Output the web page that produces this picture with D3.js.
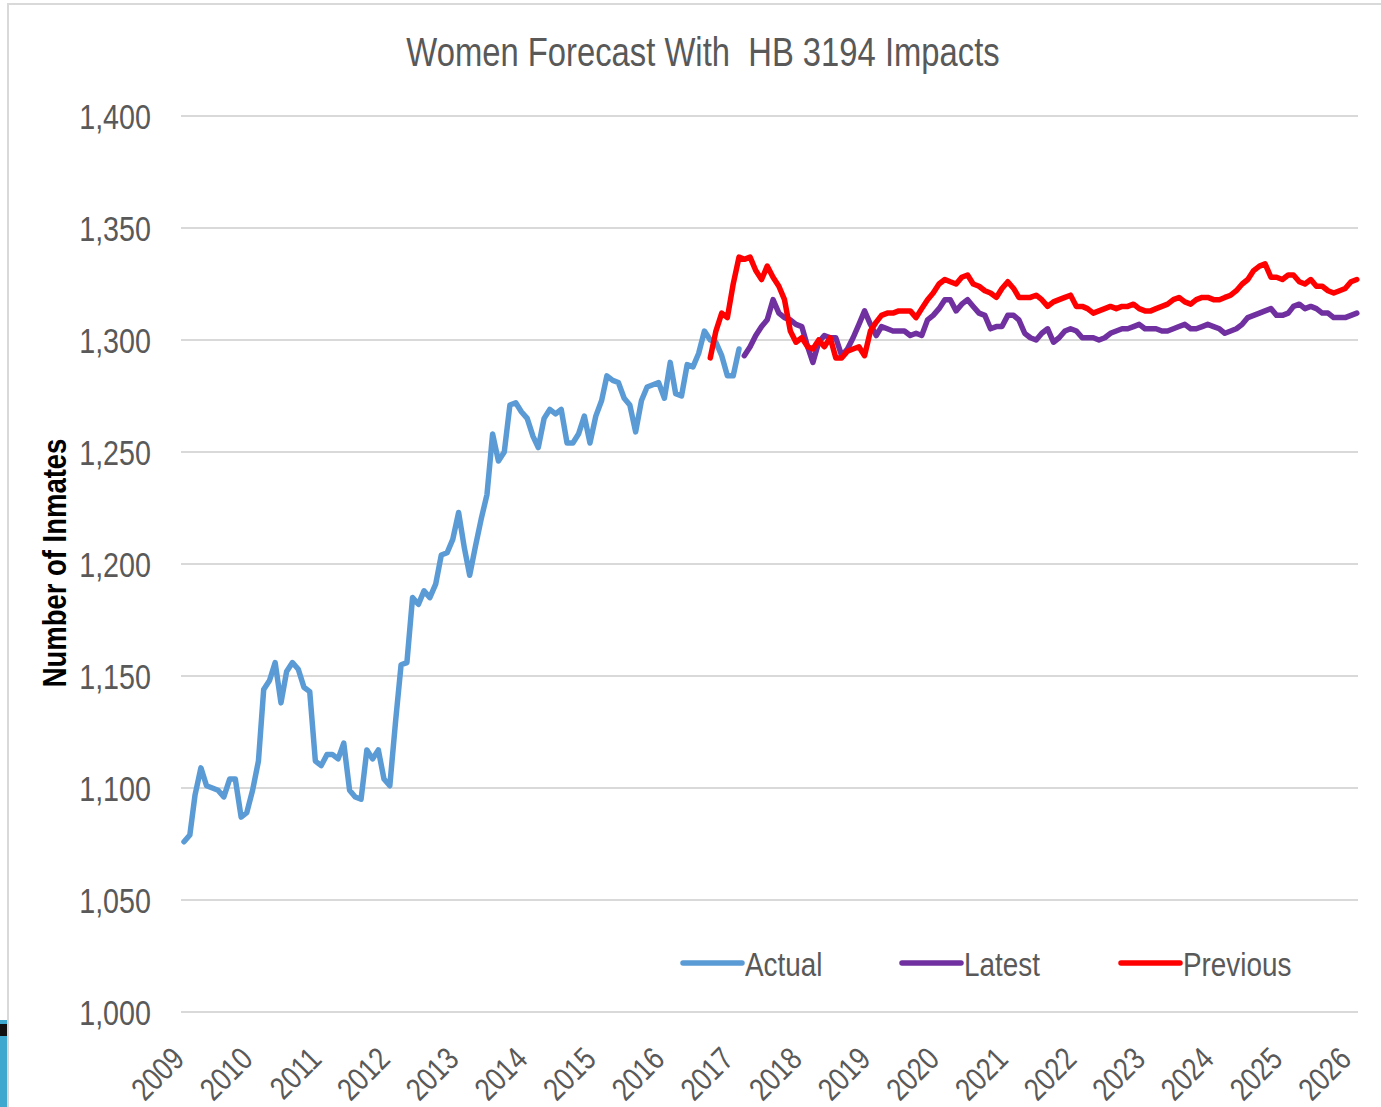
<!DOCTYPE html>
<html>
<head>
<meta charset="utf-8">
<script src="https://cdn.jsdelivr.net/npm/d3@7"></script>
<style>
  body { margin: 0; background: #fff; }
  svg text { font-family: "Liberation Sans", Arial, sans-serif; }
</style>
</head>
<body>
<div id="chart"></div>
<script>
// monthly data
var yearLabels = d3.range(2009, 2027).map(String);
var yTicks = [1000, 1050, 1100, 1150, 1200, 1250, 1300, 1350, 1400];

var actualStart = [2009, 0];   // Jan 2009
var actual = [1076,1079,1097,1109,1101,1100,1099,1096,1104,1104,
  1087,1089,1099,1112,1144,1148,1156,1138,1152,1156,
  1153,1145,1143,1112,1110,1115,1115,1113,1120,1099,
  1096,1095,1117,1113,1117,1104,1101,1130,1155,1156,
  1185,1182,1188,1185,1191,1204,1205,1211,1223,1207,
  1195,1208,1220,1231,1258,1246,1250,1271,1272,1268,
  1265,1257,1252,1265,1269,1267,1269,1254,1254,1258,
  1266,1254,1266,1273,1284,1282,1281,1274,1271,1259,
  1273,1279,1280,1281,1274,1290,1276,1275,1289,1288,
  1294,1304,1300,1299,1293,1284,1284,1296];

var previousStart = [2016, 8]; // Sep 2016
var previous = [1292,1304,1312,1310,1325,1337,1336,1337,1331,1327,
  1333,1328,1324,1318,1304,1299,1301,1297,1296,1300,
  1297,1301,1292,1292,1295,1296,1297,1293,1304,1308,
  1311,1312,1312,1313,1313,1313,1310,1314,1318,1321,
  1325,1327,1326,1325,1328,1329,1325,1324,1322,1321,
  1319,1323,1326,1323,1319,1319,1319,1320,1318,1315,
  1317,1318,1319,1320,1315,1315,1314,1312,1313,1314,
  1315,1314,1315,1315,1316,1314,1313,1313,1314,1315,
  1316,1318,1319,1317,1316,1318,1319,1319,1318,1318,
  1319,1320,1322,1325,1327,1331,1333,1334,1328,1328,
  1327,1329,1329,1326,1325,1327,1324,1324,1322,1321,
  1322,1323,1326,1327];

var latestStart = [2017, 2];   // Mar 2017
var latest = [1293,1297,1302,1306,1309,1318,1312,1310,1309,1307,
  1306,1297,1290,1299,1302,1301,1301,1293,1296,1301,
  1307,1313,1307,1302,1306,1305,1304,1304,1304,1302,
  1303,1302,1309,1311,1314,1318,1318,1313,1316,1318,
  1315,1312,1311,1305,1306,1306,1311,1311,1309,1303,
  1301,1300,1303,1305,1299,1301,1304,1305,1304,1301,
  1301,1301,1300,1301,1303,1304,1305,1305,1306,1307,
  1305,1305,1305,1304,1304,1305,1306,1307,1305,1305,
  1306,1307,1306,1305,1303,1304,1305,1307,1310,1311,
  1312,1313,1314,1311,1311,1312,1315,1316,1314,1315,
  1314,1312,1312,1310,1310,1310,1311,1312];

var seriesNames = ["Actual", "Latest", "Previous"];
var seriesColors = ["#5b9bd5", "#7030a0", "#ff0000"];

function toPoints(start, values) {
  return values.map(function (v, i) {
    return { date: new Date(start[0], start[1] + i, 1), value: v };
  });
}

var series = [
  { name: "Actual", points: toPoints(actualStart, actual) },
  { name: "Latest", points: toPoints(latestStart, latest) },
  { name: "Previous", points: toPoints(previousStart, previous) }
];

var W = 1381, H = 1107;
var NARROW = 0.82; // Arial Narrow look

var svg = d3.select("#chart").append("svg")
  .attr("width", W).attr("height", H);

// outer frame + bit of background image at the corner
svg.append("rect").attr("x", 0).attr("y", 1020).attr("width", 7).attr("height", 87)
  .attr("fill", "#3ea8cf");
svg.append("rect").attr("x", 0).attr("y", 1024).attr("width", 7).attr("height", 12)
  .attr("fill", "#111");
svg.append("rect").attr("x", 8).attr("y", 4).attr("width", W + 20).attr("height", H + 20)
  .attr("fill", "none").attr("stroke", "#d9d9d9").attr("stroke-width", 2);

// scales
var x = d3.scaleTime()
  .domain([new Date(2009, 0, 1), new Date(2026, 0, 1)])
  .range([184, 1351]);
var y = d3.scaleLinear()
  .domain([1000, 1400])
  .range([1012, 116]);

// helper for condensed text
function narrow(sel, tx, ty, rot) {
  return sel.attr("transform", "translate(" + tx + "," + ty + ")" +
    (rot ? " rotate(" + rot + ")" : "") + " scale(" + NARROW + ",1)");
}

// gridlines
svg.append("g").selectAll("line")
  .data(yTicks).enter().append("line")
  .attr("x1", 181).attr("x2", 1358)
  .attr("y1", function (d) { return y(d); })
  .attr("y2", function (d) { return y(d); })
  .attr("stroke", "#d9d9d9").attr("stroke-width", 2);

// y tick labels
svg.append("g").selectAll("text")
  .data(yTicks).enter().append("text")
  .each(function (d) { narrow(d3.select(this), 151, y(d) + 12.5); })
  .attr("text-anchor", "end")
  .attr("font-size", 35)
  .attr("fill", "#595959")
  .text(function (d) { return d3.format(",")(d); });

// x tick labels
svg.append("g").selectAll("text")
  .data(yearLabels).enter().append("text")
  .each(function (d) { narrow(d3.select(this), x(new Date(+d, 0, 1)) + 2, 1061, -45); })
  .attr("text-anchor", "end")
  .attr("font-size", 32)
  .attr("fill", "#595959")
  .text(function (d) { return d; });

// lines
var line = d3.line()
  .x(function (d) { return x(d.date); })
  .y(function (d) { return y(d.value); });

svg.append("g").selectAll("path")
  .data(series).enter().append("path")
  .attr("d", function (d) { return line(d.points); })
  .attr("fill", "none")
  .attr("stroke", function (d, i) { return seriesColors[i]; })
  .attr("stroke-width", 5.5)
  .attr("stroke-linejoin", "round")
  .attr("stroke-linecap", "round");

// title
narrow(svg.append("text"), 703, 66)
  .attr("text-anchor", "middle")
  .attr("font-size", 40)
  .attr("fill", "#595959")
  .attr("xml:space", "preserve")
  .style("white-space", "pre")
  .text("Women Forecast With  HB 3194 Impacts");

// y axis title
narrow(svg.append("text"), 66, 563, -90)
  .attr("text-anchor", "middle")
  .attr("font-size", 33.5)
  .attr("font-weight", "bold")
  .attr("fill", "#000")
  .text("Number of Inmates");

// legend
var legendX = [683, 902, 1121];
var legend = svg.append("g").selectAll("g")
  .data(seriesNames).enter().append("g")
  .attr("transform", function (d, i) { return "translate(" + legendX[i] + ",963)"; });
legend.append("line")
  .attr("x1", 0).attr("x2", 59)
  .attr("stroke", function (d, i) { return seriesColors[i]; })
  .attr("stroke-width", 5.5)
  .attr("stroke-linecap", "round");
legend.append("text")
  .each(function () { narrow(d3.select(this), 62, 13); })
  .attr("font-size", 34)
  .attr("fill", "#595959")
  .text(function (d) { return d; });
</script>
</body>
</html>
